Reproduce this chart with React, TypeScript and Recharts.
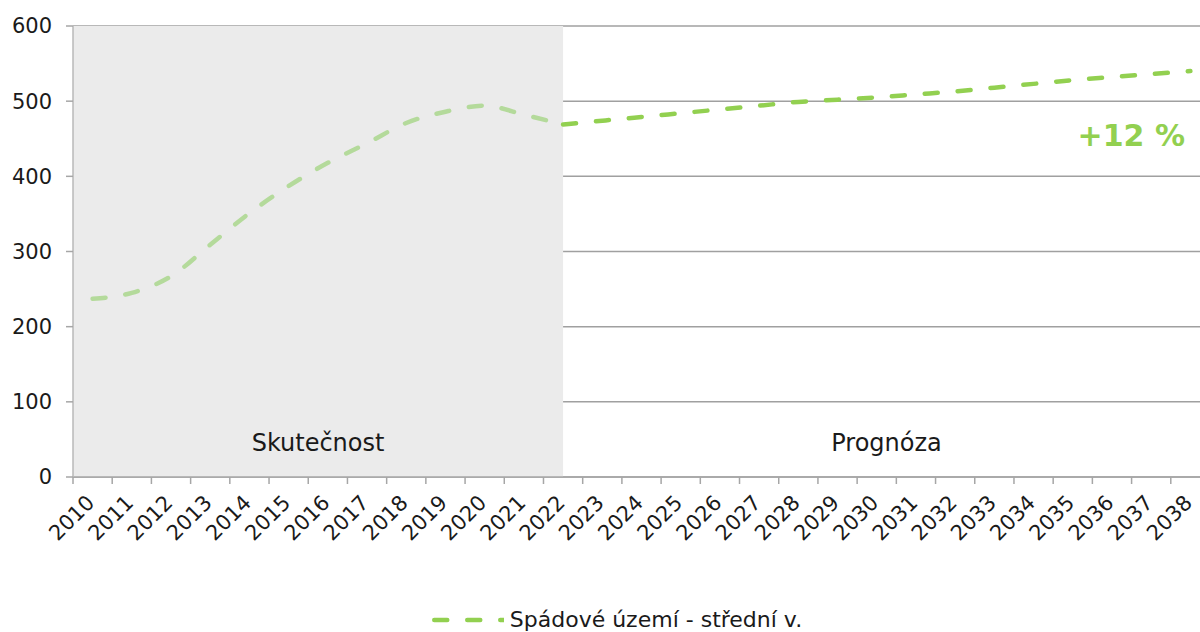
import {
  CartesianGrid,
  Label,
  Legend,
  Line,
  LineChart,
  ReferenceArea,
  XAxis,
  YAxis
} from 'recharts';

const years = [
  2010, 2011, 2012, 2013, 2014, 2015, 2016, 2017, 2018, 2019, 2020, 2021, 2022, 2023, 2024,
  2025, 2026, 2027, 2028, 2029, 2030, 2031, 2032, 2033, 2034, 2035, 2036, 2037, 2038
];

// Skutečnost 2010–2022
const actual = [237, 245, 267, 309, 351, 387, 418, 444, 471, 486, 494, 482, 469];
// Prognóza 2022–2038
const forecast = [469, 474, 479, 484, 489, 494, 499, 502, 505, 509, 513, 518, 523, 528, 532, 536, 540];

const yTicks = [0, 100, 200, 300, 400, 500, 600];

const data = years.map((year, i) => ({
  year,
  actual: i < actual.length ? actual[i] : undefined,
  forecast: i >= actual.length - 1 ? forecast[i - (actual.length - 1)] : undefined
}));

const CHART_W = 1210;
const Y_W = 73;
const BAND = (CHART_W - Y_W) / years.length;
const GREEN = '#92D050';
const LIGHT_GREEN = '#B4DA9B';
const AXIS = '#A6A6A6';

const XTick = ({ x, y, payload, index }: any) => {
  const tx = x + 3;
  const ty = y + 27;
  return (
    <g>
      <line x1={x - BAND / 2} x2={x - BAND / 2} y1={y} y2={y + 7} stroke={AXIS} strokeWidth={1.5} />
      {index === years.length - 1 && (
        <line x1={x + BAND / 2} x2={x + BAND / 2} y1={y} y2={y + 7} stroke={AXIS} strokeWidth={1.5} />
      )}
      <text x={tx} y={ty} transform={`rotate(-45 ${tx} ${ty})`} textAnchor="end" fontSize={21} fill="#1a1a1a">
        {payload.value}
      </text>
    </g>
  );
};

const LegendContent = () => (
  <div style={{ display: 'flex', justifyContent: 'center', alignItems: 'center', paddingTop: 16, paddingLeft: 24 }}>
    <svg width={72} height={8}>
      <line x1={2.25} x2={72} y1={4} y2={4} stroke={GREEN} strokeWidth={4.5} strokeDasharray="13 20" strokeLinecap="round" />
    </svg>
    <span style={{ fontSize: 22, marginLeft: 6, color: '#1a1a1a', lineHeight: '24px' }}>Spádové území - střední v.</span>
  </div>
);

export default function App() {
  return (
    <div style={{ width: 1200, height: 632, overflow: 'hidden', position: 'relative', fontFamily: 'DejaVu Sans', background: '#fff' }}>
      <style>{'body{margin:0}'}</style>
      <LineChart width={CHART_W} height={632} data={data} margin={{ top: 26, right: 0, left: 0, bottom: 0 }}>
        <ReferenceArea x1={2009.5} x2={2022} y1={0} y2={600} fill="#EBEBEB" fillOpacity={1} stroke="none">
          <Label value="Skutečnost" position="insideBottom" offset={26} fontSize={24} fill="#1a1a1a" />
        </ReferenceArea>
        <ReferenceArea x1={2022} x2={2038.5} y1={0} y2={600} fill="#fff" fillOpacity={0} stroke="none">
          <Label value="Prognóza" position="insideBottom" offset={26} fontSize={24} fill="#1a1a1a" />
          <Label
            content={({ viewBox }: any) => (
              <text
                x={viewBox.x + viewBox.width - 25}
                y={viewBox.y + 120}
                textAnchor="end"
                fontSize={30}
                fontWeight="bold"
                fill={GREEN}
              >
                +12 %
              </text>
            )}
          />
        </ReferenceArea>
        <CartesianGrid vertical={false} stroke="#A0A0A0" strokeWidth={1.5} />
        <XAxis
          dataKey="year"
          type="number"
          domain={[2009.5, 2038.5]}
          ticks={years}
          interval={0}
          tickLine={false}
          tickSize={0}
          tickMargin={0}
          axisLine={{ stroke: AXIS, strokeWidth: 1.5 }}
          height={115}
          tick={<XTick />}
        />
        <YAxis
          domain={[0, 600]}
          ticks={yTicks}
          width={Y_W}
          tickSize={7}
          tickMargin={14}
          tickLine={{ stroke: AXIS, strokeWidth: 1.5 }}
          axisLine={{ stroke: '#B8B8B8', strokeWidth: 1.5 }}
          tick={{ fontSize: 21, fill: '#1a1a1a' }}
        />
        <Legend verticalAlign="bottom" height={40} content={<LegendContent />} />
        <Line
          type="monotone"
          dataKey="actual"
          stroke={LIGHT_GREEN}
          strokeWidth={4.5}
          strokeDasharray="13 20"
          strokeLinecap="round"
          dot={false}
          activeDot={false}
          isAnimationActive={false}
        />
        <Line
          type="monotone"
          dataKey="forecast"
          stroke={GREEN}
          strokeWidth={4.5}
          strokeDasharray="13 20"
          strokeLinecap="round"
          dot={false}
          activeDot={false}
          isAnimationActive={false}
        />
      </LineChart>
    </div>
  );
}
